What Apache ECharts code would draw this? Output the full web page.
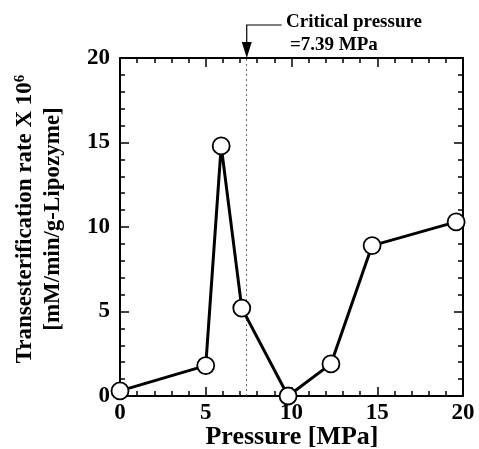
<!DOCTYPE html>
<html>
<head>
<meta charset="utf-8">
<script src="https://cdn.jsdelivr.net/npm/echarts@6/dist/echarts.min.js"></script>
<style>
  html, body { margin: 0; padding: 0; background: #fff; }
  #chart { width: 479px; height: 449px; }
</style>
</head>
<body>
<div id="chart"></div>
<script>
// Transesterification rate vs. pressure
const pressure = [0, 5.0, 5.9, 7.1, 9.8, 12.3, 14.7, 19.6];      // MPa
const rate = [0.3, 1.8, 14.8, 5.2, 0, 1.9, 8.9, 10.3];           // x 10^6 mM/min/g-Lipozyme
const criticalPressure = 7.39;                                    // MPa
const xTicks = [0, 5, 10, 15, 20];
const yTicks = [0, 5, 10, 15, 20];

const FONT = '"Liberation Serif", "DejaVu Serif", serif';
const chart = echarts.init(document.getElementById('chart'), null, { renderer: 'canvas' });

const axisBase = {
  type: 'value',
  min: 0,
  max: 20,
  interval: 5,
  axisLine: { show: true, onZero: false, lineStyle: { color: '#000', width: 2 } },
  axisTick: { show: true, inside: true, length: 9, lineStyle: { color: '#000', width: 1.5 } },
  minorTick: { show: true, splitNumber: 5, length: 5, lineStyle: { color: '#000', width: 1.5 } },
  splitLine: { show: false },
  minorSplitLine: { show: false }
};

chart.setOption({
  animation: false,
  backgroundColor: '#fff',
  grid: { left: 120, right: 16, top: 58, bottom: 53, containLabel: false },
  xAxis: [
    Object.assign({}, axisBase, {
      position: 'bottom',
      axisLabel: {
        show: true, margin: 6, color: '#000', fontFamily: FONT, fontWeight: 'bold', fontSize: 23,
        formatter: v => (xTicks.indexOf(v) >= 0 ? String(v) : '')
      }
    }),
    Object.assign({}, axisBase, { position: 'top', axisLabel: { show: false } })
  ],
  yAxis: [
    Object.assign({}, axisBase, {
      position: 'left',
      axisLabel: {
        show: true, margin: 10, color: '#000', fontFamily: FONT, fontWeight: 'bold', fontSize: 23,
        padding: [0, 0, 9, 0],
        formatter: v => (yTicks.indexOf(v) >= 0 ? String(v) : '')
      }
    }),
    Object.assign({}, axisBase, { position: 'right', axisLabel: { show: false } })
  ],
  series: [{
    type: 'line',
    data: pressure.map((p, i) => [p, rate[i]]),
    clip: false,
    symbol: 'circle',
    symbolSize: 17,
    showAllSymbol: true,
    lineStyle: { color: '#000', width: 3 },
    itemStyle: { color: '#fff', borderColor: '#000', borderWidth: 1.8 },
    z: 5,
    markLine: {
      silent: true,
      symbol: ['none', 'none'],
      label: { show: false },
      lineStyle: { color: '#666', width: 1, type: [2, 3] },
      data: [{ xAxis: criticalPressure }]
    }
  }]
});

// Axis titles and the critical-pressure callout
const cx = chart.convertToPixel({ xAxisIndex: 0 }, criticalPressure);
const topY = chart.convertToPixel({ yAxisIndex: 0 }, 20);

chart.setOption({
  graphic: [
    {
      type: 'text', position: [292, 437],
      style: {
        text: 'Pressure [MPa]', font: 'bold 26px ' + FONT, fill: '#000',
        textAlign: 'center', textVerticalAlign: 'middle'
      }
    },
    {
      type: 'text', position: [25, 219], rotation: Math.PI / 2,
      style: {
        rich: {
          b: { font: 'bold 23px ' + FONT, fill: '#000' },
          sup: { font: 'bold 15px ' + FONT, fill: '#000', verticalAlign: 'top', padding: [0, 0, 10, 0] }
        },
        text: '{b|Transesterification rate X 10}{sup|6}',
        textAlign: 'center', textVerticalAlign: 'middle'
      }
    },
    {
      type: 'text', position: [53, 219], rotation: Math.PI / 2,
      style: {
        text: '[mM/min/g-Lipozyme]', font: 'bold 23px ' + FONT, fill: '#000',
        textAlign: 'center', textVerticalAlign: 'middle'
      }
    },
    {
      type: 'polyline',
      shape: { points: [[cx + 35, 25], [cx, 25], [cx, topY - 14]] },
      style: { stroke: '#000', lineWidth: 1.2, fill: null }
    },
    {
      type: 'polygon',
      shape: { points: [[cx - 5, topY - 16], [cx + 5, topY - 16], [cx, topY]] },
      style: { fill: '#000' }
    },
    {
      type: 'text', position: [286, 22],
      style: {
        text: 'Critical pressure', font: 'bold 19px ' + FONT, fill: '#000',
        textAlign: 'left', textVerticalAlign: 'middle'
      }
    },
    {
      type: 'text', position: [290, 45],
      style: {
        text: '=7.39 MPa', font: 'bold 19px ' + FONT, fill: '#000',
        textAlign: 'left', textVerticalAlign: 'middle'
      }
    }
  ]
});
</script>
</body>
</html>
